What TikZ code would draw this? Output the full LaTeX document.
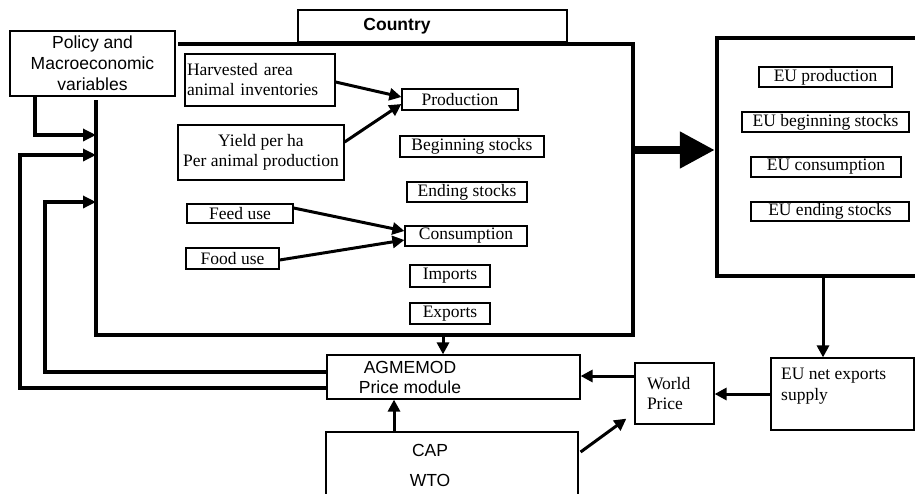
\documentclass[tikz,border=0pt]{standalone}
\usepackage{fontspec}
\setmainfont{Liberation Serif}
\setsansfont{Liberation Sans}
\usetikzlibrary{arrows.meta, positioning, calc}

\begin{document}
\begin{tikzpicture}[x=1pt, y=-1pt,
    box/.style={draw, line width=1.2pt, inner sep=0pt, align=center, font=\fontsize{17.5}{20}\selectfont},
    sbox/.style={box, font=\sffamily\fontsize{17.5}{21}\selectfont},
    stext/.style={inner sep=0pt, align=center, font=\sffamily\fontsize{17.5}{20}\selectfont},
    wall/.style={line width=4pt},
    arr/.style={line width=3pt, -{Triangle[length=12pt,width=12pt]}},
    loopback/.style={line width=4pt, -{Triangle[length=13pt,width=12pt]}}
  ]
  \useasboundingbox (0,0) rectangle (915,493);
  \fill[white] (0,0) rectangle (915,493);

  % Policy box and country frame
  \node[sbox, minimum width=165pt, minimum height=65pt] (policy) at (92.5,63.5) {Policy and\\Macroeconomic\\variables};
  \node[box, minimum width=269pt, minimum height=32pt] (tab) at (432.5,26) {};
  \node[stext, font=\sffamily\bfseries\fontsize{17.5}{20}\selectfont] (tabtxt) at (397,26) {Country};
  \draw[wall] (178,44) -- (633,44) coordinate (cne) -- (633,335) coordinate (cse)
    -- (96,335) coordinate (csw) -- (96,100);

  % Country variables
  \node[box, minimum width=150pt, minimum height=52pt, text width=146pt, align=left] (harv) at (260,80) {Harvested area\\animal inventories};
  \node[box, minimum width=166pt, minimum height=55pt] (yield) at (261,152.5) {Yield per ha\\Per animal production};
  \node[box, minimum width=106pt, minimum height=19pt] (feed) at (240,213.5) {Feed use};
  \node[box, minimum width=93pt, minimum height=21pt] (food) at (232.5,258.5) {Food use};
  \node[box, minimum width=116pt, minimum height=21pt] (prod) at (460,99.5) {Production};
  \node[box, minimum width=144pt, minimum height=21pt] (begst) at (472,146.5) {Beginning stocks};
  \node[box, minimum width=120pt, minimum height=20pt] (endst) at (467,192) {Ending stocks};
  \node[box, minimum width=122pt, minimum height=20pt] (cons) at (466,236) {Consumption};
  \node[box, minimum width=80pt, minimum height=22pt] (imp) at (450,276) {Imports};
  \node[box, minimum width=80pt, minimum height=21pt] (exp) at (450,313.5) {Exports};

  \draw[arr] (harv.east |- 0,82) -- (prod.west |- 0,97);
  \draw[arr] (yield.east |- 0,142) -- (prod.west |- 0,104);
  \draw[arr] (feed.east |- 0,208) -- (cons.west |- 0,231);
  \draw[arr] (food.east |- 0,260) -- (cons.west |- 0,240);

  % EU frame
  \node[draw, line width=4.5pt, inner sep=0pt, minimum width=213pt, minimum height=238pt] (eu) at (823.5,157) {};
  \node[box, minimum width=133pt, minimum height=20pt] (eup) at (825.5,77) {EU production};
  \node[box, minimum width=167pt, minimum height=20pt] (eub) at (825.5,122) {EU beginning stocks};
  \node[box, minimum width=150pt, minimum height=20pt] (euc) at (826,167) {EU consumption};
  \node[box, minimum width=158pt, minimum height=19pt] (eue) at (830,211.5) {EU ending stocks};
  \draw[line width=8pt, -{Triangle[length=35pt,width=35pt]}] (cne |- 0,150) -- (eu.west |- 0,150);

  % Price side
  \node[box, minimum width=143pt, minimum height=72pt] (eunet) at (842.5,394) {};
  \node[inner sep=0pt, align=left, font=\fontsize{17.5}{21}\selectfont, anchor=west] (eunettxt) at (781,386.5) {EU net exports\\supply};
  \node[box, minimum height=61pt, text width=55pt, inner xsep=12pt, align=left] (wp) at (674.5,393.5) {World\\Price};
  \node[box, minimum width=253pt, minimum height=44pt] (agm) at (453.5,377) {};
  \node[stext] (agmtxt) at (410,377) {AGMEMOD\\Price module};
  \node[box, minimum width=252pt, minimum height=78pt] (capwto) at (452,471) {};
  \node[stext] (captxt) at (430,465) {CAP\\[10pt]WTO};

  \draw[arr] (eu.south -| 823,0) -- (eunet.north -| 823,0);
  \draw[arr] (eunet.west |- 0,394) -- (wp.east |- 0,394);
  \draw[arr] (wp.west |- 0,376) -- (agm.east |- 0,376);
  \draw[arr] (csw -| 443,0) -- (agm.north -| 443,0);
  \draw[arr] (capwto.north -| 394,0) -- (agm.south -| 394,0);
  \draw[arr] ([xshift=2pt]capwto.east |- 0,452) -- ($(wp.south west)+(-8,-6)$);

  % Feedback into the country frame
  \draw[loopback] ([xshift=26pt]policy.south west) |- (csw |- 0,135);
  \draw[loopback] (agm.west |- 0,372) -| (45,202) -- (csw |- 0,202);
  \draw[loopback] (agm.west |- 0,388) -| (20,155) -- (csw |- 0,155);
\end{tikzpicture}
\end{document}
